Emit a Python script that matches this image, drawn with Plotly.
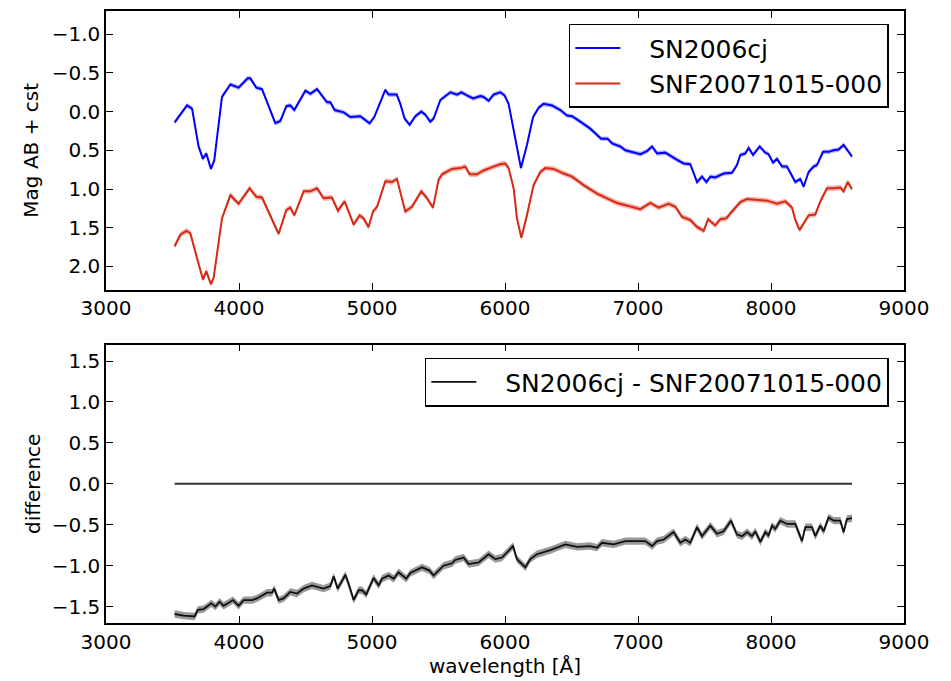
import numpy as np
import plotly.graph_objects as go

# ---------------- data ----------------
BLUE_NAME = "SN2006cj"
RED_NAME = "SNF20071015-000"
DIFF_NAME = "SN2006cj - SNF20071015-000"

BLUE_WL = [3516, 3609, 3647, 3696, 3729, 3754, 3789, 3814, 3872, 3935, 3997, 4065, 4085,
           4130, 4173, 4222, 4273, 4311, 4356, 4386, 4416, 4499, 4536, 4587, 4624, 4662,
           4687, 4719, 4787, 4837, 4912, 4982, 5017, 5100, 5125, 5186, 5213, 5245, 5283,
           5326, 5371, 5401, 5438, 5463, 5514, 5551, 5589, 5639, 5672, 5714, 5760, 5814,
           5839, 5877, 5914, 5965, 5997, 6027, 6065, 6120, 6165, 6211, 6253, 6290, 6353,
           6416, 6466, 6504, 6566, 6641, 6723, 6772, 6805, 6867, 6905, 7018, 7068, 7106,
           7143, 7205, 7281, 7343, 7393, 7444, 7481, 7514, 7544, 7581, 7644, 7707, 7744,
           7769, 7807, 7832, 7865, 7915, 7957, 7982, 8015, 8045, 8083, 8120, 8183, 8220,
           8245, 8283, 8320, 8346, 8391, 8433, 8471, 8508, 8546, 8584, 8609]
BLUE_MAG = [0.14, -0.08, -0.04, 0.45, 0.61, 0.54, 0.74, 0.63, -0.19, -0.35, -0.31, -0.43, -0.43,
            -0.31, -0.29, -0.08, 0.15, 0.12, -0.07, -0.08, -0.02, -0.27, -0.23, -0.29, -0.21, -0.12,
            -0.12, -0.02, 0.01, 0.07, 0.06, 0.15, 0.07, -0.28, -0.22, -0.22, -0.10, 0.09, 0.17,
            0.06, 0.00, 0.04, 0.13, 0.09, -0.15, -0.20, -0.25, -0.22, -0.25, -0.21, -0.17, -0.20,
            -0.19, -0.14, -0.22, -0.25, -0.21, -0.10, 0.22, 0.73, 0.43, 0.07, -0.05, -0.10, -0.08,
            -0.02, 0.05, 0.06, 0.13, 0.22, 0.35, 0.35, 0.41, 0.45, 0.50, 0.55, 0.51, 0.45,
            0.54, 0.53, 0.61, 0.67, 0.68, 0.91, 0.84, 0.91, 0.84, 0.85, 0.80, 0.79, 0.69,
            0.56, 0.54, 0.47, 0.56, 0.45, 0.53, 0.55, 0.66, 0.61, 0.71, 0.71, 0.91, 0.87,
            0.97, 0.78, 0.71, 0.69, 0.52, 0.52, 0.50, 0.49, 0.43, 0.52, 0.58]
BLUE_ERR = 0.03

RED_WL = [3516, 3559, 3604, 3634, 3684, 3729, 3754, 3789, 3809, 3872, 3935, 3997, 4080,
          4130, 4173, 4235, 4298, 4356, 4386, 4416, 4486, 4536, 4587, 4636, 4699, 4744,
          4794, 4862, 4907, 4937, 4974, 5008, 5038, 5100, 5150, 5188, 5250, 5301, 5371,
          5414, 5459, 5501, 5527, 5602, 5664, 5702, 5734, 5790, 5839, 5914, 5965, 6002,
          6027, 6065, 6090, 6123, 6165, 6215, 6266, 6303, 6366, 6441, 6504, 6591, 6692,
          6767, 6842, 6930, 7018, 7093, 7155, 7230, 7281, 7331, 7393, 7444, 7494, 7527,
          7581, 7619, 7664, 7707, 7769, 7820, 7895, 7970, 8045, 8108, 8158, 8183, 8215,
          8245, 8283, 8333, 8371, 8421, 8471, 8521, 8546, 8576, 8609]
RED_MAG = [1.74, 1.59, 1.54, 1.57, 1.89, 2.17, 2.06, 2.23, 2.15, 1.38, 1.08, 1.19, 0.99,
           1.10, 1.11, 1.34, 1.58, 1.27, 1.24, 1.34, 1.03, 1.03, 0.99, 1.12, 1.11, 1.28,
           1.16, 1.46, 1.34, 1.38, 1.49, 1.29, 1.23, 0.90, 0.91, 0.87, 1.29, 1.23, 1.03,
           1.12, 1.24, 0.88, 0.81, 0.74, 0.73, 0.71, 0.81, 0.81, 0.76, 0.71, 0.68, 0.67,
           0.73, 0.99, 1.38, 1.63, 1.34, 0.95, 0.78, 0.73, 0.74, 0.80, 0.84, 0.95, 1.06,
           1.12, 1.18, 1.22, 1.26, 1.18, 1.24, 1.19, 1.23, 1.36, 1.40, 1.49, 1.54, 1.39,
           1.47, 1.39, 1.38, 1.29, 1.17, 1.13, 1.14, 1.15, 1.19, 1.16, 1.24, 1.40, 1.53,
           1.44, 1.34, 1.33, 1.16, 0.99, 0.99, 0.98, 1.03, 0.91, 1.00]
RED_ERR = 0.035

DIFF_WL = [3516, 3584, 3666, 3691, 3734, 3792, 3822, 3854, 3884, 3955, 3997, 4035, 4098,
           4135, 4210, 4248, 4265, 4298, 4335, 4386, 4436, 4486, 4549, 4636, 4687, 4712,
           4742, 4800, 4832, 4862, 4899, 4925, 4957, 5012, 5050, 5075, 5125, 5163, 5200,
           5258, 5288, 5376, 5433, 5463, 5538, 5602, 5626, 5689, 5727, 5802, 5877, 5927,
           5978, 6015, 6060, 6090, 6153, 6190, 6240, 6341, 6454, 6542, 6641, 6692, 6729,
           6817, 6905, 7055, 7106, 7143, 7193, 7268, 7318, 7356, 7393, 7444, 7481, 7544,
           7594, 7644, 7699, 7744, 7782, 7820, 7857, 7882, 7920, 7957, 7982, 8007, 8032,
           8070, 8120, 8183, 8233, 8258, 8308, 8333, 8371, 8396, 8433, 8471, 8521, 8546,
           8571, 8609]
DIFF_MAG = [-1.59, -1.61, -1.62, -1.54, -1.53, -1.46, -1.50, -1.44, -1.49, -1.42, -1.49, -1.42, -1.42,
            -1.40, -1.33, -1.33, -1.28, -1.42, -1.40, -1.32, -1.34, -1.28, -1.24, -1.28, -1.25, -1.13,
            -1.28, -1.11, -1.26, -1.42, -1.30, -1.30, -1.35, -1.15, -1.24, -1.16, -1.12, -1.16, -1.08,
            -1.16, -1.09, -1.02, -1.06, -1.12, -1.00, -0.97, -0.93, -0.90, -0.98, -0.96, -0.86, -0.92,
            -0.90, -0.84, -0.76, -0.92, -1.02, -0.92, -0.86, -0.81, -0.74, -0.77, -0.76, -0.78, -0.72,
            -0.74, -0.70, -0.70, -0.76, -0.70, -0.68, -0.59, -0.72, -0.68, -0.72, -0.53, -0.64, -0.51,
            -0.61, -0.58, -0.45, -0.62, -0.64, -0.59, -0.64, -0.58, -0.71, -0.59, -0.63, -0.51, -0.55,
            -0.45, -0.49, -0.49, -0.70, -0.53, -0.53, -0.64, -0.51, -0.58, -0.41, -0.45, -0.45, -0.59,
            -0.43, -0.42]
DIFF_ERR = 0.045

ZERO_WL = [3516, 8609]
ZERO_VAL = [0.0, 0.0]

X_RANGE = [3000, 9000]
TOP_Y_RANGE = [2.3, -1.3]
BOT_Y_RANGE = [-1.7, 1.7]

# ---------------- figure ----------------
FONT = "DejaVu Sans"
PAD = "\u00a0\u00a0\u00a0"
fig = go.Figure()


def band(x, y, err, color, xa, ya):
    x = np.asarray(x, float)
    y = np.asarray(y, float)
    fig.add_trace(go.Scatter(
        x=np.concatenate([x, x[::-1]]),
        y=np.concatenate([y + err, (y - err)[::-1]]),
        fill="toself", fillcolor=color, line=dict(width=0),
        mode="lines", showlegend=False, hoverinfo="skip",
        xaxis=xa, yaxis=ya))


band(BLUE_WL, BLUE_MAG, BLUE_ERR, "rgba(70,70,255,0.4)", "x", "y")
band(RED_WL, RED_MAG, RED_ERR, "rgba(230,70,50,0.4)", "x", "y")
band(DIFF_WL, DIFF_MAG, DIFF_ERR, "rgba(0,0,0,0.4)", "x2", "y2")

fig.add_trace(go.Scatter(x=BLUE_WL, y=BLUE_MAG, mode="lines", name=PAD + BLUE_NAME,
                         line=dict(color="#0000ff", width=2), xaxis="x", yaxis="y",
                         legend="legend"))
fig.add_trace(go.Scatter(x=RED_WL, y=RED_MAG, mode="lines", name=PAD + RED_NAME,
                         line=dict(color="#d42a16", width=2), xaxis="x", yaxis="y",
                         legend="legend"))
fig.add_trace(go.Scatter(x=DIFF_WL, y=DIFF_MAG, mode="lines", name=PAD + DIFF_NAME,
                         line=dict(color="#111111", width=1.8), xaxis="x2", yaxis="y2",
                         legend="legend2"))
fig.add_trace(go.Scatter(x=ZERO_WL, y=ZERO_VAL, mode="lines", showlegend=False,
                         line=dict(color="#333333", width=2), xaxis="x2", yaxis="y2"))

axis_common = dict(showline=True, linecolor="black", linewidth=1.5, mirror="ticks",
                   ticks="inside", ticklen=7, tickwidth=1, tickcolor="black",
                   showgrid=False, zeroline=False,
                   tickfont=dict(family=FONT, size=20, color="black"))

fig.update_layout(
    width=951, height=681,
    margin=dict(l=106, r=47, t=9, b=57),
    paper_bgcolor="white", plot_bgcolor="white",
    font=dict(family=FONT, color="black"),
    xaxis=dict(domain=[0, 1], range=X_RANGE, dtick=1000, anchor="y", **axis_common),
    yaxis=dict(domain=[0.5447, 1], range=TOP_Y_RANGE, dtick=0.5, tickformat=".1f",
               anchor="x",
               title=dict(text="Mag AB + cst", font=dict(family=FONT, size=20), standoff=8),
               **axis_common),
    xaxis2=dict(domain=[0, 1], range=X_RANGE, dtick=1000, anchor="y2",
                title=dict(text="wavelength [Å]", font=dict(family=FONT, size=20), standoff=4),
                **axis_common),
    yaxis2=dict(domain=[0, 0.4548], range=BOT_Y_RANGE, dtick=0.5, tickformat=".1f",
                anchor="x2",
                title=dict(text="difference", font=dict(family=FONT, size=20), standoff=6),
                **axis_common),
    legend=dict(x=0.981, y=0.979, xanchor="right", yanchor="top",
                bordercolor="black", borderwidth=1.5, bgcolor="white",
                font=dict(family=FONT, size=25, color="black"), itemwidth=45),
    legend2=dict(x=0.981, y=0.4337, xanchor="right", yanchor="top",
                 bordercolor="black", borderwidth=1.5, bgcolor="white",
                 font=dict(family=FONT, size=25, color="black"), itemwidth=45),
)

fig.write_html("out.html")
